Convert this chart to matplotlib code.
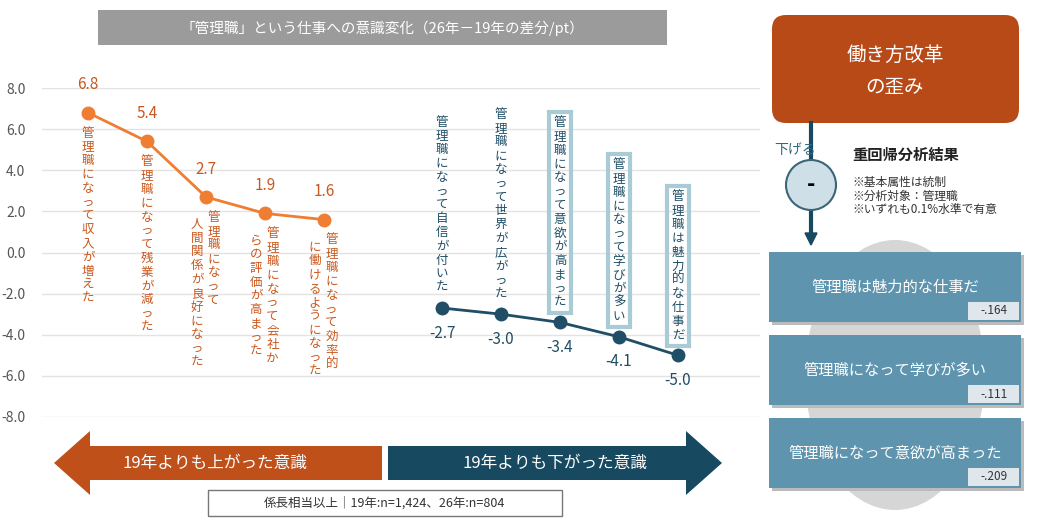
import matplotlib
matplotlib.use("Agg")
import matplotlib.pyplot as plt
from matplotlib.patches import FancyBboxPatch, Rectangle, Circle, Ellipse, FancyArrow

plt.rcParams['font.family'] = ['Noto Sans CJK JP', 'DejaVu Sans']

# data
up_values = [6.8, 5.4, 2.7, 1.9, 1.6]
up_labels = [["管理職になって収入が増えた"],
             ["管理職になって残業が減った"],
             ["管理職になって", "人間関係が良好になった"],
             ["管理職になって会社か", "らの評価が高まった"],
             ["管理職になって効率的", "に働けるようになった"]]
down_values = [-2.7, -3.0, -3.4, -4.1, -5.0]
down_labels = ["管理職になって自信が付いた", "管理職になって世界が広がった",
               "管理職になって意欲が高まった", "管理職になって学びが多い",
               "管理職は魅力的な仕事だ"]
down_boxed = [False, False, True, True, True]
yticks = [8.0, 6.0, 4.0, 2.0, 0.0, -2.0, -4.0, -6.0, -8.0]
reg_items = ["管理職は魅力的な仕事だ", "管理職になって学びが多い", "管理職になって意欲が高まった"]
reg_coefs = ["-.164", "-.111", "-.209"]

ORANGE = "#ef7d32"
ORANGE_T = "#c9581e"
ORANGE_D = "#c0501a"
BLUE = "#1f4e66"
BLUE_D = "#174a61"
BOX = "#5e94ae"

W, H = 1050, 530
fig = plt.figure(figsize=(W / 100, H / 100), dpi=100)

# main chart axes: px x 42..760, y 88..417
ax = fig.add_axes([42 / W, 1 - 417 / H, (760 - 42) / W, (417 - 88) / H])
up_x = [0, 1, 2, 3, 4]
down_x = [6, 7, 8, 9, 10]
ax.set_xlim(-0.78, 11.39)
ax.set_ylim(-8, 8)
ax.set_yticks(yticks)
ax.set_yticklabels([f"{v:.1f}" for v in yticks], color="#555555", fontsize=10)
ax.set_xticks([])
ax.grid(axis="y", color="#e3e3e3", lw=1)
ax.tick_params(length=0, pad=12)
for s in ax.spines.values():
    s.set_visible(False)
ax.set_axisbelow(True)

ax.plot(up_x, up_values, color=ORANGE, lw=2, marker="o", ms=9, zorder=3)
ax.plot(down_x, down_values, color=BLUE, lw=2, marker="o", ms=9, zorder=3)

def vert(s):
    return "\n".join(s)

for x, v, labs in zip(up_x, up_values, up_labels):
    ax.annotate(f"{v:.1f}", (x, v), xytext=(0, 14), textcoords="offset points",
                ha="center", va="bottom", color=ORANGE_T, fontsize=11)
    if len(labs) == 1:
        ax.annotate(vert(labs[0]), (x, v), xytext=(0, -10), textcoords="offset points",
                    ha="center", va="top", color=ORANGE_T, fontsize=9, linespacing=1.08)
    else:
        ax.annotate(vert(labs[0]), (x, v), xytext=(5.5, -10), textcoords="offset points",
                    ha="center", va="top", color=ORANGE_T, fontsize=9, linespacing=1.08)
        ax.annotate(vert(labs[1]), (x, v), xytext=(-6.5, -15), textcoords="offset points",
                    ha="center", va="top", color=ORANGE_T, fontsize=9, linespacing=1.08)

for x, v, lab, boxed in zip(down_x, down_values, down_labels, down_boxed):
    ax.annotate(f"{v:.1f}", (x, v), xytext=(0, -12), textcoords="offset points",
                ha="center", va="top", color=BLUE, fontsize=11)
    bbox = dict(boxstyle="square,pad=0.35", fc="none", ec="#a8cbd6", lw=3) if boxed else None
    ax.annotate(vert(lab), (x, v), xytext=(0, 10), textcoords="offset points",
                ha="center", va="bottom", color=BLUE, fontsize=9, linespacing=1.08,
                bbox=bbox)

# overlay for infographic elements, pixel coords
ov = fig.add_axes([0, 0, 1, 1])
ov.set_xlim(0, W)
ov.set_ylim(H, 0)
ov.axis("off")

ov.add_patch(Rectangle((98, 10), 569, 35, fc="#9b9b9b", ec="none"))
ov.text(382, 28, "「管理職」という仕事への意識変化（26年－19年の差分/pt）", color="white",
        ha="center", va="center", fontsize=10.5)

# big arrows
ov.add_patch(FancyArrow(382, 463, -328, 0, width=34, head_width=64, head_length=36,
                        length_includes_head=True, fc=ORANGE_D, ec="none"))
ov.text(215, 463, "19年よりも上がった意識", color="white", ha="center", va="center", fontsize=12)
ov.add_patch(FancyArrow(388, 463, 334, 0, width=34, head_width=64, head_length=36,
                        length_includes_head=True, fc=BLUE_D, ec="none"))
ov.text(555, 463, "19年よりも下がった意識", color="white", ha="center", va="center", fontsize=12)
ov.add_patch(Rectangle((208, 490), 354, 26, fc="white", ec="#777777", lw=1))
ov.text(385, 503, "係長相当以上｜19年:n=1,424、26年:n=804", color="#333333",
        ha="center", va="center", fontsize=9)

# right panel
ov.add_patch(FancyBboxPatch((772, 15), 247, 108, boxstyle="round,pad=0,rounding_size=14",
                            fc="#b84a17", ec="none"))
ov.text(895, 55, "働き方改革", color="white", ha="center", va="center", fontsize=14)
ov.text(895, 88, "の歪み", color="white", ha="center", va="center", fontsize=14)
ov.plot([811, 811], [123, 235], color=BLUE_D, lw=3)
ov.add_patch(FancyArrow(811, 230, 0, 15, width=0, head_width=12, head_length=12,
                        length_includes_head=True, fc=BLUE_D, ec=BLUE_D))
ov.add_patch(Circle((811, 185), 25, fc="#cfdfe8", ec="#3a6678", lw=1.5, zorder=3))
ov.text(811, 185, "-", ha="center", va="center", fontsize=16, fontweight="bold", zorder=4)
ov.text(774, 150, "下げる", color="#2f6a80", ha="left", va="center", fontsize=10)
ov.text(852, 155, "重回帰分析結果", color="#222222", ha="left", va="center",
        fontsize=11, fontweight="bold")
ov.text(852, 196, "※基本属性は統制\n※分析対象：管理職\n※いずれも0.1%水準で有意",
        color="#333333", ha="left", va="center", fontsize=8.5, linespacing=1.05)

ov.add_patch(Ellipse((895, 375), 180, 270, fc="#d6d6d6", ec="none"))
for i, (item, coef) in enumerate(zip(reg_items, reg_coefs)):
    top = 252 + i * 83
    ov.add_patch(Rectangle((772, top + 3), 252, 70, fc="#bbbbbb", ec="none"))
    ov.add_patch(Rectangle((769, top), 252, 70, fc=BOX, ec="none"))
    ov.text(895, top + 35, item, color="white", ha="center", va="center", fontsize=11)
    ov.add_patch(Rectangle((968, top + 50), 51, 18, fc="#dfe7ec", ec="none"))
    ov.text(994, top + 59, coef, color="#333333", ha="center", va="center", fontsize=8.5)

fig.savefig("out.png", dpi=100)
